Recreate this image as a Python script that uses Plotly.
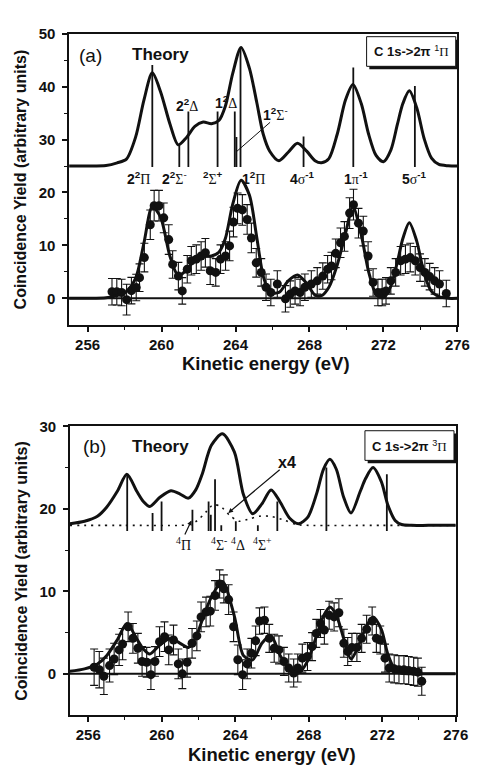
import plotly.graph_objects as go

W, H = 485, 771


def px(x):
    return x / W


def py(y):
    return 1 - y / H


FONT = "Liberation Sans"
SERIF = "Liberation Serif"
INK = "#111111"


def g(letter):
    return "<span style='font-family:Liberation Serif'>" + letter + "</span>"


# ---------------- panel (a) : C 1s -> 2pi 1Pi ----------------
theory_a_x = [255.0, 256.0, 257.0, 257.6, 258.1, 258.6, 259.05, 259.5, 259.95, 260.45, 260.9, 261.35,
              261.8, 262.25, 262.7, 263.1, 263.45, 263.85, 264.3, 264.75, 265.15, 265.5, 265.85, 266.35,
              266.85, 267.35, 267.85, 268.3, 268.65, 269.05, 269.5, 269.95, 270.35, 270.8, 271.2, 271.6,
              272.0, 272.4, 272.75, 273.05, 273.4, 273.8, 274.2, 274.6, 275.0, 275.5, 276.0]
theory_a_y = [25.0, 25.0, 25.1, 25.6, 26.3, 30.5, 37.5, 42.6, 39.0, 33.0, 29.0, 30.4,
              32.5, 33.3, 33.0, 33.6, 36.3, 42.5, 47.4, 43.5, 37.0, 31.0, 27.8, 26.0,
              27.6, 29.3, 27.8, 26.0, 25.6, 26.4, 31.0, 37.5, 40.4, 36.8, 31.0, 27.0,
              25.8, 28.0, 32.8, 36.8, 39.2, 36.0, 30.2, 26.5, 25.3, 25.05, 25.0]
fit_a_y = [0.0, 0.0, 0.1, 0.5, 1.3, 3.8, 10.5, 17.3, 15.3, 8.0, 4.3, 5.3,
           7.3, 7.9, 8.0, 8.7, 11.3, 17.8, 22.3, 19.5, 11.5, 4.2, 1.2, 1.1,
           3.3, 4.4, 2.8, 0.6, 0.5, 2.1, 6.3, 12.3, 17.3, 12.0, 5.0, 0.8,
           0.1, 2.3, 6.8, 11.3, 14.3, 10.8, 4.7, 1.3, 0.3, 0.0, 0.0]

sticks_a_x = [259.5, 260.96, 261.45, 263.03, 263.96, 264.05, 264.27, 267.68, 270.37, 273.7]
sticks_a_top = [44.1, 28.9, 35.3, 35.3, 35.3, 30.5, 47.3, 30.6, 43.6, 40.1]
sticks_a_base = 24.8

exp_a_x = [257.32, 257.58, 257.84, 258.11, 258.37, 258.63, 258.81, 259.07, 259.39, 259.60,
           259.86, 260.12, 260.39, 260.60, 260.91, 261.12, 261.39, 261.61, 261.88, 262.14,
           262.37, 262.63, 262.93, 263.19, 263.46, 263.68, 263.89, 264.11, 264.37, 264.63,
           264.86, 265.12, 265.39, 265.65, 265.91, 266.26, 266.70, 266.96, 267.22, 267.49,
           267.75, 268.10, 268.42, 268.72, 268.98, 269.19, 269.42, 269.68, 269.89, 270.17,
           270.38, 270.65, 270.91, 271.17, 271.44, 271.70, 271.93, 272.14, 272.40, 272.66,
           272.93, 273.19, 273.45, 273.72, 273.98, 274.24, 274.50, 274.77, 275.03, 275.40]
exp_a_y = [1.25, 1.25, 1.1, -0.25, 1.45, 2.05, 3.9, 7.7, 13.9, 17.5,
           17.5, 15.2, 11.1, 6.4, 4.2, 1.4, 5.5, 7.1, 7.4, 8.0,
           8.6, 5.2, 4.9, 7.4, 8.0, 9.9, 14.4, 17.0, 16.7, 14.9,
           11.4, 6.7, 4.9, 2.1, 1.1, 2.7, -0.1, 0.8, 1.4, 1.1,
           2.1, 2.7, 3.3, 4.2, 5.5, 6.1, 8.5, 10.5, 11.7, 16.1,
           17.7, 14.2, 12.7, 8.0, 3.0, 1.1, 1.1, 1.4, 3.3, 4.9,
           7.1, 7.4, 7.7, 7.1, 5.8, 4.9, 4.1, 3.3, 2.7, 0.9]
exp_a_err = [2.5, 2.5, 2.5, 2.9, 2.5, 2.5, 2.6, 2.7, 2.8, 2.9,
             2.9, 2.8, 2.8, 2.6, 2.6, 2.5, 2.6, 2.7, 2.7, 2.7,
             2.7, 2.6, 2.6, 2.7, 2.7, 2.8, 2.8, 2.9, 2.9, 2.8,
             2.8, 2.7, 2.6, 2.5, 2.5, 2.5, 2.5, 2.5, 2.5, 2.5,
             2.5, 2.5, 2.5, 2.5, 2.6, 2.6, 2.7, 2.8, 2.8, 2.9,
             2.9, 2.8, 2.8, 2.7, 2.6, 2.5, 2.5, 2.5, 2.5, 2.6,
             2.7, 2.7, 2.7, 2.7, 2.6, 2.6, 2.5, 2.5, 2.5, 2.5]

labels_a_above = ["<b>2<sup>2</sup></b>" + g("Δ"), "<b>1<sup>2</sup></b>" + g("Δ"),
                  "<b>1<sup>2</sup></b>" + g("Σ") + "<sup>-</sup>"]
labels_a_above_x = [261.35, 263.47, 266.15]
labels_a_above_y = [36.6, 37.1, 34.9]
labels_a_below = ["<b>2<sup>2</sup></b>" + g("Π"), "<b>2<sup>2</sup></b>" + g("Σ") + "<sup>-</sup>",
                  "<b><sup>2</sup></b>" + g("Σ") + "<b><sup>+</sup></b>",
                  "<b>1<sup>2</sup></b>" + g("Π"), "<b>4</b>" + g("σ") + "<b><sup>-1</sup></b>",
                  "<b>1</b>" + g("π") + "<b><sup>-1</sup></b>",
                  "<b>5</b>" + g("σ") + "<b><sup>-1</sup></b>"]
labels_a_below_x = [258.78, 260.7, 262.76, 264.98, 267.64, 270.5, 273.68]
labels_a_below_y = 22.8

# ---------------- panel (b) : C 1s -> 2pi 3Pi ----------------
theory_b_x = [255.0, 255.8, 256.5, 257.0, 257.6, 258.1, 258.65, 259.0, 259.35, 259.9, 260.5, 261.0,
              261.45, 261.85, 262.2, 262.7, 263.3, 263.95, 264.45, 264.95, 265.45, 265.95, 266.45,
              266.95, 267.45, 267.95, 268.45, 268.8, 269.15, 269.5, 269.9, 270.3, 270.8, 271.1,
              271.5, 271.95, 272.3, 272.7, 273.05, 273.6, 274.5, 276.0]
theory_b_y = [18.2, 18.5, 19.1, 20.2, 22.2, 24.2, 22.1, 20.9, 20.3, 21.4, 22.2, 21.8,
              21.3, 22.3, 24.2, 27.7, 29.1, 26.9, 21.7, 19.4, 20.6, 22.3, 20.8,
              18.9, 18.2, 19.0, 22.0, 24.8, 26.0, 24.8, 21.4, 19.5, 22.1, 23.7,
              25.0, 23.3, 20.5, 18.6, 18.1, 18.0, 18.0, 18.0]
fit_b_y = [0.3, 0.6, 1.2, 2.2, 4.2, 6.1, 4.2, 3.0, 2.4, 3.5, 4.3, 3.7,
           3.2, 4.4, 6.5, 9.3, 11.2, 7.0, 2.2, 1.7, 3.7, 4.6, 2.2,
           0.7, 0.1, 1.6, 4.8, 7.0, 8.1, 7.1, 4.3, 1.8, 3.9, 5.6,
           6.9, 5.4, 2.4, 0.5, 0.05, 0.0, 0.0, 0.0]

quartet_b_x = [255.0, 258.0, 261.0, 261.5, 261.95, 262.4, 262.8, 263.2, 263.7, 264.2, 264.8,
               265.3, 265.9, 266.7, 267.3, 268.0, 272.0, 276.0]
quartet_b_y = [18.0, 18.0, 18.0, 18.1, 18.6, 19.6, 20.5, 20.3, 19.2, 18.5, 18.8,
               19.1, 19.1, 18.6, 18.1, 18.0, 18.0, 18.0]

sticks_b_x = [258.12, 259.5, 259.99, 261.67, 262.55, 262.67, 262.9, 263.24, 264.03, 265.23, 266.29, 268.96, 272.25]
sticks_b_top = [24.2, 19.5, 20.9, 19.9, 20.9, 19.3, 23.6, 18.0, 18.5, 18.0, 20.9, 25.0, 24.2]
sticks_b_base = 17.3

exp_b_x = [256.32, 256.60, 256.85, 257.16, 257.41, 257.68, 257.87, 258.17, 258.43, 258.70,
           258.93, 259.18, 259.41, 259.63, 259.88, 260.15, 260.38, 260.64, 260.90, 261.12,
           261.38, 261.65, 261.91, 262.14, 262.41, 262.64, 262.90, 263.15, 263.38, 263.64,
           263.91, 264.14, 264.40, 264.65, 264.88, 265.11, 265.32, 265.59, 265.85, 266.12,
           266.38, 266.65, 266.91, 267.18, 267.40, 267.65, 267.93, 268.18, 268.41, 268.64,
           268.85, 269.11, 269.38, 269.64, 269.91, 270.12, 270.35, 270.62, 270.88, 271.15,
           271.45, 271.68, 271.89, 272.15, 272.38, 272.65, 272.91, 273.18, 273.44, 273.71,
           273.94, 274.15]
exp_b_y = [0.8, 0.5, -0.3, 1.0, 1.8, 2.9, 3.6, 5.7, 4.3, 3.1,
           1.5, 1.4, -0.1, 1.5, 3.9, 4.5, 2.9, 4.1, 1.2, 0.0,
           1.4, 3.7, 4.6, 6.9, 7.5, 7.6, 9.5, 10.9, 10.3, 9.0,
           5.7, 1.7, -0.1, 1.2, 2.5, 4.0, 6.4, 6.5, 4.3, 3.1,
           2.9, 1.5, 0.7, 0.1, 0.7, 1.9, 2.1, 3.3, 4.9, 6.1,
           5.3, 7.1, 6.9, 7.4, 3.7, 2.7, 3.2, 3.2, 4.3, 5.4,
           6.4, 4.3, 4.1, 1.9, 0.7, 0.6, 0.5, 0.5, 0.4, 0.3,
           0.2, -0.9]
exp_b_err = [2.2, 2.2, 2.2, 2.0, 1.9, 1.9, 1.9, 1.8, 1.8, 1.8,
             1.8, 1.8, 1.8, 1.8, 1.8, 1.8, 1.8, 1.8, 1.8, 1.8,
             1.8, 1.8, 1.8, 1.8, 1.8, 1.8, 1.8, 1.7, 1.7, 1.8,
             1.8, 1.8, 1.8, 1.8, 1.8, 1.8, 1.6, 1.6, 1.7, 1.7,
             1.7, 1.7, 1.7, 1.7, 1.7, 1.7, 1.7, 1.7, 1.7, 1.7,
             1.7, 1.7, 1.7, 1.7, 1.7, 1.7, 1.7, 1.7, 1.7, 1.7,
             1.7, 1.7, 1.7, 1.7, 1.7, 1.7, 1.7, 1.7, 1.7, 1.7,
             1.7, 1.7]

labels_b = ["<sup>4</sup>Π", "<sup>4</sup>Σ<sup>-</sup>", "<sup>4</sup>Δ", "<sup>4</sup>Σ<sup>+</sup>"]
labels_b_x = [261.17, 263.11, 264.14, 265.5]
labels_b_y = 15.8

x_ticks = [256, 260, 264, 268, 272, 276]
x_minor = [258, 262, 266, 270, 274]
ya_ticks = [0, 10, 20, 30, 40, 50]
ya_minor = [5, 15, 25, 35, 45]
yb_ticks = [0, 10, 20, 30]
yb_minor = [5, 15, 25]


def sticks(xs, tops, base):
    X, Y = [], []
    for x, t in zip(xs, tops):
        X += [x, x, None]
        Y += [base, t, None]
    return X, Y


fig = go.Figure()

# ---- panel (a) traces
fig.add_trace(go.Scatter(x=theory_a_x, y=theory_a_y, mode="lines", xaxis="x", yaxis="y",
                         line=dict(color=INK, width=3, shape="spline", smoothing=0.8)))
sx, sy = sticks(sticks_a_x, sticks_a_top, sticks_a_base)
fig.add_trace(go.Scatter(x=sx, y=sy, mode="lines", xaxis="x", yaxis="y",
                         line=dict(color=INK, width=1.8)))
fig.add_trace(go.Scatter(x=exp_a_x, y=exp_a_y, mode="markers", xaxis="x", yaxis="y",
                         marker=dict(color=INK, size=9),
                         error_y=dict(type="data", array=exp_a_err, color=INK, thickness=1.1, width=4)))
fig.add_trace(go.Scatter(x=theory_a_x, y=fit_a_y, mode="lines", xaxis="x", yaxis="y",
                         line=dict(color=INK, width=3, shape="spline", smoothing=0.8)))

# ---- panel (b) traces
fig.add_trace(go.Scatter(x=quartet_b_x, y=quartet_b_y, mode="lines", xaxis="x2", yaxis="y2",
                         line=dict(color=INK, width=1.6, dash="2px,5px", shape="spline", smoothing=0.7)))
fig.add_trace(go.Scatter(x=theory_b_x, y=theory_b_y, mode="lines", xaxis="x2", yaxis="y2",
                         line=dict(color=INK, width=3, shape="spline", smoothing=0.8)))
sx, sy = sticks(sticks_b_x, sticks_b_top, sticks_b_base)
fig.add_trace(go.Scatter(x=sx, y=sy, mode="lines", xaxis="x2", yaxis="y2",
                         line=dict(color=INK, width=1.8)))
fig.add_trace(go.Scatter(x=exp_b_x, y=exp_b_y, mode="markers", xaxis="x2", yaxis="y2",
                         marker=dict(color=INK, size=9),
                         error_y=dict(type="data", array=exp_b_err, color=INK, thickness=1.1, width=4)))
fig.add_trace(go.Scatter(x=theory_b_x, y=fit_b_y, mode="lines", xaxis="x2", yaxis="y2",
                         line=dict(color=INK, width=3, shape="spline", smoothing=0.8)))

tickfont = dict(family=FONT, size=15, color=INK, weight="bold")


def xaxis(domain, anchor):
    return dict(domain=domain, anchor=anchor, range=[255, 276], tickmode="array", tickvals=x_ticks,
                ticks="outside", ticklen=5, tickwidth=1.5, tickcolor=INK,
                showline=True, linecolor=INK, linewidth=1.5, mirror=True,
                showgrid=False, zeroline=False, tickfont=tickfont,
                minor=dict(tickvals=x_minor, ticks="outside", ticklen=3, tickwidth=1.2, tickcolor=INK))


def yaxis(domain, anchor, rng, tv, mv):
    return dict(domain=domain, anchor=anchor, range=rng, tickmode="array", tickvals=tv,
                ticks="outside", ticklen=5, tickwidth=1.5, tickcolor=INK,
                showline=True, linecolor=INK, linewidth=1.5, mirror=True,
                showgrid=False, zeroline=False, tickfont=tickfont, ticklabelstandoff=4,
                minor=dict(tickvals=mv, ticks="outside", ticklen=3, tickwidth=1.2, tickcolor=INK))


annotations = []


def txt(text, x, y, xref, yref, size, bold=False, family=FONT, **kw):
    f = dict(family=family, size=size, color=INK)
    if bold:
        f["weight"] = "bold"
    d = dict(text=text, x=x, y=y, xref=xref, yref=yref, showarrow=False, font=f,
             xanchor="center", yanchor="middle")
    d.update(kw)
    annotations.append(d)


# axis titles
for cy in (172, 568):
    txt("Coincidence Yield (arbitrary units)", px(22), py(cy), "paper", "paper", 16, bold=True, textangle=-90)
txt("Kinetic energy (eV)", px(273), py(359), "paper", "paper", 18.5, bold=True)
txt("Kinetic energy (eV)", px(280), py(754), "paper", "paper", 18.5, bold=True)

# panel letters
txt("(a)", px(93), py(47), "paper", "paper", 19)
txt("Theory", px(165), py(46), "paper", "paper", 17, bold=True)
txt("(b)", px(97), py(443), "paper", "paper", 19)
txt("Theory", px(165), py(443), "paper", "paper", 17, bold=True)

# boxes text
txt("<b>C 1s-&gt;2π </b><sup>1</sup>" + g("Π"), px(422.5), py(43), "paper", "paper", 13)
txt("<b>C 1s-&gt;2π </b><sup>3</sup>" + g("Π"), px(421), py(441.7), "paper", "paper", 13)

# state labels (a)
for t, x, y in zip(labels_a_above, labels_a_above_x, labels_a_above_y):
    txt(t, x, y, "x", "y", 14)
for t, x in zip(labels_a_below, labels_a_below_x):
    txt(t, x, labels_a_below_y, "x", "y", 14)
# state labels (b)
for t, x in zip(labels_b, labels_b_x):
    txt(t, x, labels_b_y, "x2", "y2", 14, family=SERIF)
txt("<b>x4</b>", 266.8, 25.6, "x2", "y2", 16)

# arrows
annotations.append(dict(x=264.08, y=27.8, ax=265.95, ay=33.5, xref="x", yref="y", axref="x", ayref="y",
                        text="", showarrow=True, arrowhead=0, arrowwidth=1, arrowcolor=INK))
annotations.append(dict(x=263.62, y=19.5, ax=266.5, ay=24.9, xref="x2", yref="y2", axref="x2", ayref="y2",
                        text="", showarrow=True, arrowhead=2, arrowsize=0.8, arrowwidth=1.2, arrowcolor=INK))
annotations.append(dict(x=261.62, y=18.6, ax=261.22, ay=16.7, xref="x2", yref="y2", axref="x2", ayref="y2",
                        text="", showarrow=True, arrowhead=2, arrowsize=0.8, arrowwidth=1.2, arrowcolor=INK))

shapes = [
    dict(type="line", xref="x domain", yref="y", x0=0, x1=1, y0=0, y1=0, line=dict(color=INK, width=2)),
    dict(type="line", xref="x2 domain", yref="y2", x0=0, x1=1, y0=0, y1=0, line=dict(color=INK, width=2)),
    # box (a)
    dict(type="rect", xref="paper", yref="paper", x0=px(379.5), x1=px(471), y0=py(61), y1=py(31),
         fillcolor=INK, line=dict(width=0)),
    dict(type="rect", xref="paper", yref="paper", x0=px(376.7), x1=px(468.3), y0=py(58), y1=py(28),
         fillcolor="white", line=dict(color=INK, width=1)),
    # box (b)
    dict(type="rect", xref="paper", yref="paper", x0=px(377.8), x1=px(469.3), y0=py(459.5), y1=py(429.5),
         fillcolor=INK, line=dict(width=0)),
    dict(type="rect", xref="paper", yref="paper", x0=px(375), x1=px(466.5), y0=py(456.7), y1=py(426.7),
         fillcolor="white", line=dict(color=INK, width=1)),
]

fig.update_layout(
    width=W, height=H, margin=dict(l=0, r=0, t=0, b=0),
    paper_bgcolor="white", plot_bgcolor="white", showlegend=False,
    xaxis=xaxis([px(71), px(470)], "y"),
    yaxis=yaxis([py(319.5), py(25)], "x", [-5, 50], ya_ticks, ya_minor),
    xaxis2=xaxis([px(71.8), px(468.3)], "y2"),
    yaxis2=yaxis([py(714.4), py(422.3)], "x2", [-5, 30], yb_ticks, yb_minor),
    annotations=annotations, shapes=shapes,
)

fig.write_html("out.html", config=dict(displayModeBar=False),
               post_script="document.body.style.margin='0';document.body.style.overflow='hidden';")
